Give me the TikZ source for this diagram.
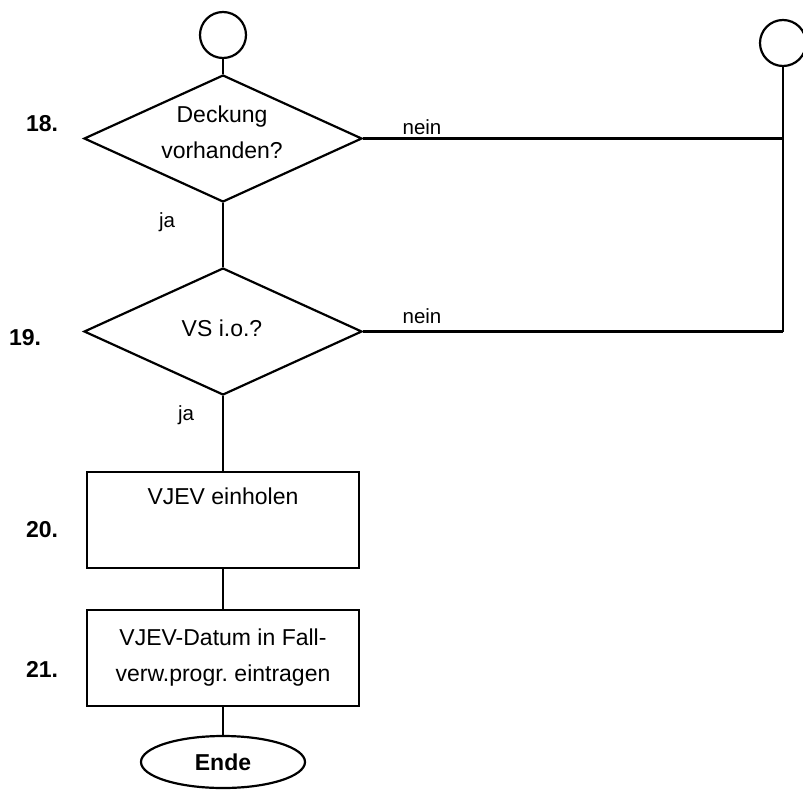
\documentclass[tikz,border=0pt]{standalone}
\usepackage{fontspec}
\setmainfont{Liberation Sans}
\frenchspacing
\usepackage{tikz}
\usetikzlibrary{shapes.geometric}
\tikzset{every node/.append style={font=\fontsize{23}{36}\selectfont},
    frage/.style={draw, diamond, inner sep=0pt, minimum width=278pt, minimum height=127pt},
    schritt/.style={draw, rectangle, inner sep=0pt, minimum width=272pt, minimum height=96pt, align=center},
    konn/.style={draw, circle, inner sep=0pt, minimum size=46pt},
    nr/.style={font=\fontsize{23}{28}\selectfont\bfseries},
    ant/.style={font=\fontsize{20.5}{24}\selectfont}}

\begin{document}
\begin{tikzpicture}[x=1pt, y=-1pt, line width=2.2pt]
    \useasboundingbox (0,0) rectangle (803,790);
    \node[konn] (conL) at (223,35) {};
    \node[konn] (conR) at (783,43) {};
    \node[frage] (d18) at (223,138.5) {};
    \node[align=center] (t18) at (222,132) {Deckung\\vorhanden?};
    \node[frage] (d19) at (223,331.5) {};
    \node (t19) at (222,328) {VS i.o.?};
    \node[schritt] (s20) at (223,520) {VJEV einholen\\ \strut};
    \node[schritt] (s21) at (223,658) {VJEV-Datum in Fall-\\verw.progr. eintragen};
    \node[draw, ellipse, inner sep=0pt, minimum width=164pt, minimum height=52pt, font=\fontsize{23}{28}\selectfont\bfseries] (ende) at (223,762) {Ende};
    \coordinate (jR) at (783,331.5);
    % Verbindungen
    \draw (conL) -- (d18.north);
    \draw (d18.south) -- (d19.north);
    \draw (d19.south) -- (s20.north);
    \draw (s20.south) -- (s21.north);
    \draw (s21.south) -- (s21.south |- ende.north);
    \draw (conR) -- (jR);
    \draw (d18.east) -- (d18.east -| conR);
    \draw (d19.east) -- (jR);
    % Beschriftungen
    \node[ant] (n18) at (422,127) {nein};
    \node[ant] (n19) at (422,316) {nein};
    \node[ant] (j18) at (167,222) {ja};
    \node[ant] (j19) at (186,415) {ja};
    \node[nr] (l18) at (42,124) {18.};
    \node[nr] (l19) at (25,338) {19.};
    \node[nr] (l20) at (42,530) {20.};
    \node[nr] (l21) at (42,669) {21.};
\end{tikzpicture}
\end{document}
